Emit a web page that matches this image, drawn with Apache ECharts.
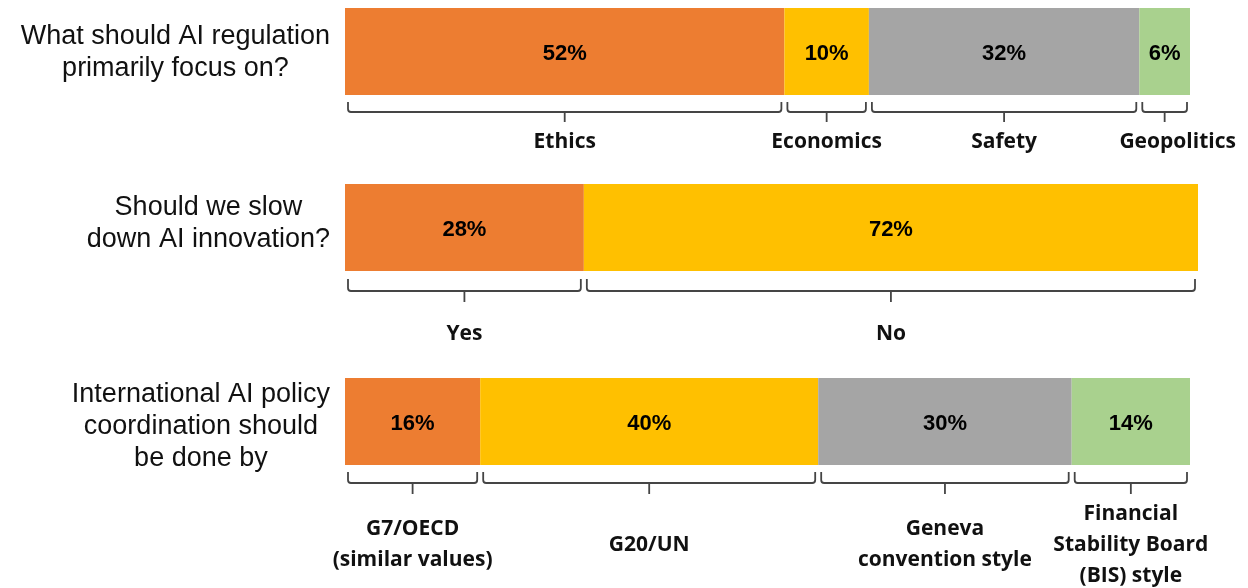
<!DOCTYPE html>
<html>
<head>
<meta charset="utf-8">
<script src="https://cdn.jsdelivr.net/npm/echarts@6/dist/echarts.min.js"></script>
<style>
  html, body { margin: 0; padding: 0; background: #fff; }
  #chart { width: 1248px; height: 588px; }
</style>
</head>
<body>
<div id="chart"></div>
<script>
// ---------- data ----------
const questions = [
  'What should AI regulation\nprimarily focus on?',
  'Should we slow\ndown AI innovation?',
  'International AI policy\ncoordination should\nbe done by'
];
const focusCategories = ['Ethics', 'Economics', 'Safety', 'Geopolitics'];
const focusValues = [52, 10, 32, 6];
const slowCategories = ['Yes', 'No'];
const slowValues = [28, 72];
const coordCategories = ['G7/OECD\n(similar values)', 'G20/UN', 'Geneva\nconvention style', 'Financial\nStability Board\n(BIS) style'];
const coordValues = [16, 40, 30, 14];
const segmentColors = ['#ED7D31', '#FFC000', '#A5A5A5', '#A9D18E'];

// ---------- layout ----------
const groups = [
  { cats: focusCategories, vals: focusValues },
  { cats: slowCategories, vals: slowValues },
  { cats: coordCategories, vals: coordValues }
];
const layout = [
  { top: 8,   width: 845, hookTop: 7, lineY: 17, tickY: 27, labelY: 47.5, qShift: 1 },
  { top: 184, width: 853, hookTop: 8, lineY: 20, tickY: 31, labelY: 63,   qShift: -4 },
  { top: 378, width: 845, hookTop: 7, lineY: 18, tickY: 29, labelY: 80,   qShift: 5 }
];
const labelShift = { 'Geopolitics': 13 };
const gridLeft = 345, barHeight = 87, qRight = 330;
const qFontSize = 27;

const ctx = document.createElement('canvas').getContext('2d');
ctx.font = qFontSize + 'px "Liberation Sans"';
function blockWidth(t) {
  return Math.max.apply(null, t.split('\n').map(s => ctx.measureText(s).width));
}

const grids = [], xAxes = [], yAxes = [], series = [], graphics = [];
groups.forEach((g, gi) => {
  const L = layout[gi];
  grids.push({ left: gridLeft, top: L.top, width: L.width, height: barHeight });
  xAxes.push({ gridIndex: gi, type: 'value', min: 0, max: 100, show: false });
  yAxes.push({ gridIndex: gi, type: 'category', data: [questions[gi]], show: false });
  graphics.push({
    type: 'text', silent: true,
    x: qRight - blockWidth(questions[gi]) / 2,
    y: L.top + barHeight / 2 + L.qShift,
    style: {
      text: questions[gi], align: 'center', verticalAlign: 'middle',
      fontFamily: 'Liberation Sans', fontSize: qFontSize, lineHeight: 32, fill: '#111'
    }
  });
  g.vals.forEach((v, si) => {
    series.push({
      type: 'bar', name: g.cats[si], xAxisIndex: gi, yAxisIndex: gi,
      stack: 'q' + gi, data: [v], barWidth: '100%', barCategoryGap: 0,
      itemStyle: { color: segmentColors[si] },
      label: {
        show: true, position: 'inside', formatter: '{c}%', offset: [0, 2],
        fontFamily: 'Liberation Sans', fontWeight: 'bold', fontSize: 22, color: '#000'
      },
      emphasis: { disabled: true }, silent: true
    });
  });
  // bracket ranges from cumulative sums
  let acc = 0;
  const ranges = g.vals.map(v => { const r = [acc, acc + v, 0]; acc += v; return r; });
  series.push({
    type: 'custom', xAxisIndex: gi, yAxisIndex: gi, clip: false, silent: true,
    encode: { x: [0, 1], y: 2 },
    data: ranges,
    renderItem: function (params, api) {
      const p0 = api.coord([api.value(0), 0]);
      const p1 = api.coord([api.value(1), 0]);
      const band = api.size([0, 1])[1];
      const bottom = p0[1] + band / 2;
      const inset = 3, r = 3;
      const x0 = p0[0] + inset, x1 = p1[0] - inset, cx = (p0[0] + p1[0]) / 2;
      const t = bottom + L.hookTop, l = bottom + L.lineY, c = bottom + L.tickY;
      const path = 'M' + x0 + ' ' + t + ' L' + x0 + ' ' + (l - r) +
        ' Q' + x0 + ' ' + l + ' ' + (x0 + r) + ' ' + l +
        ' L' + (x1 - r) + ' ' + l +
        ' Q' + x1 + ' ' + l + ' ' + x1 + ' ' + (l - r) +
        ' L' + x1 + ' ' + t +
        ' M' + cx + ' ' + l + ' L' + cx + ' ' + c;
      const name = g.cats[params.dataIndex];
      return {
        type: 'group',
        children: [
          { type: 'path', shape: { pathData: path }, style: { fill: null, stroke: '#454545', lineWidth: 1.8 } },
          { type: 'text', style: {
              text: name, x: cx + (labelShift[name] || 0), y: bottom + L.labelY,
              align: 'center', verticalAlign: 'middle',
              fontFamily: 'Open Sans', fontWeight: 'bold', fontSize: 21, lineHeight: 31, fill: '#111'
          } }
        ]
      };
    }
  });
});

const chart = echarts.init(document.getElementById('chart'), null, { renderer: 'canvas' });
chart.setOption({
  animation: false,
  backgroundColor: '#fff',
  grid: grids, xAxis: xAxes, yAxis: yAxes, series: series, graphic: graphics
});
</script>
</body>
</html>
